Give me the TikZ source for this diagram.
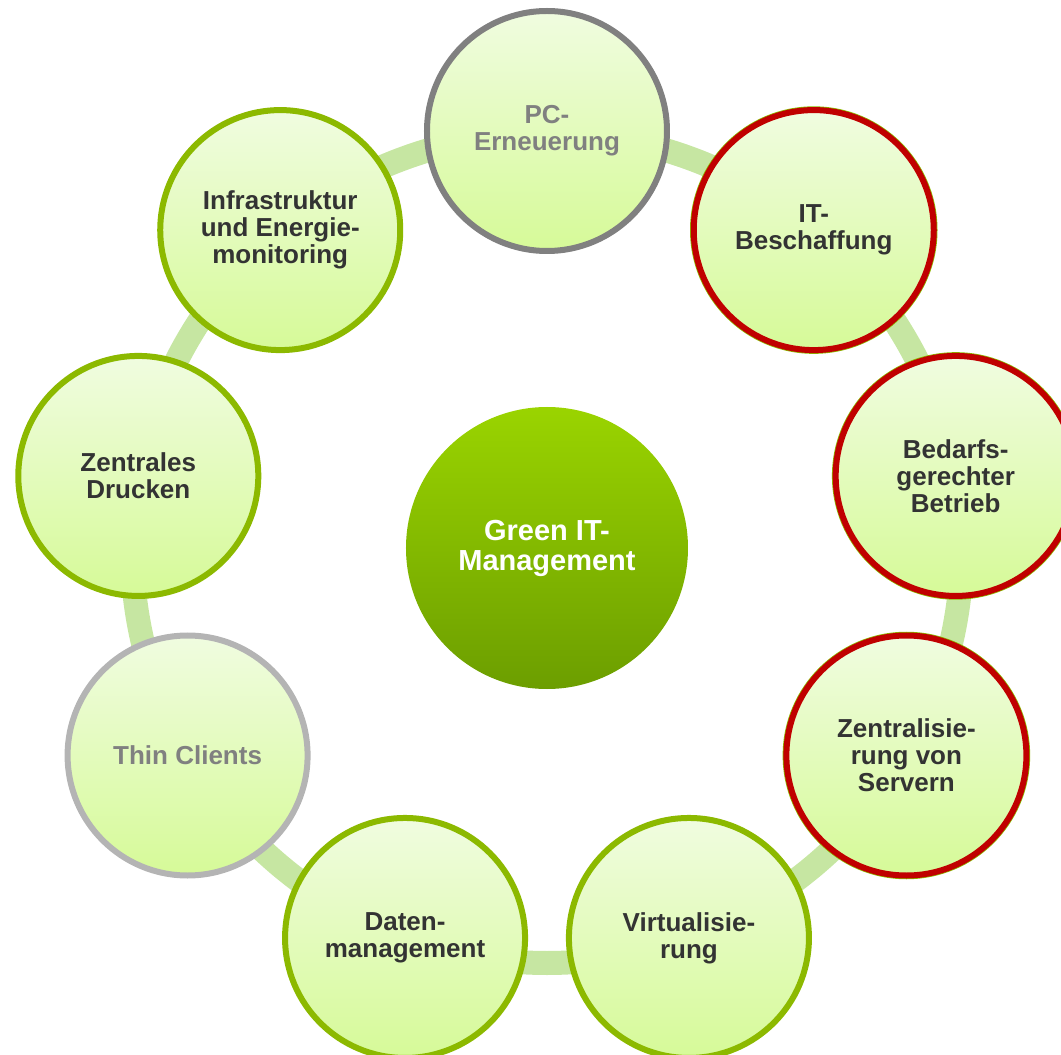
\documentclass[tikz,border=0pt]{standalone}
\usepackage{fontspec}
\setmainfont{Liberation Sans}

\definecolor{laubgruen}{HTML}{8CB900}
\definecolor{rotrand}{HTML}{C00000}
\definecolor{graurand}{HTML}{808080}
\definecolor{hellgrau}{HTML}{B4B4B4}
\definecolor{bandgruen}{HTML}{C6E6A2}
\definecolor{fuelloben}{HTML}{F0FCE0}
\definecolor{fuellunten}{HTML}{D6FA98}
\definecolor{kernoben}{HTML}{9AD400}
\definecolor{kernunten}{HTML}{6C9E00}
\definecolor{schrift}{HTML}{333333}

\tikzset{
  feld/.style={circle,minimum size=240pt,inner sep=0pt,line width=6pt,
    draw=laubgruen,top color=fuelloben,bottom color=fuellunten,
    text=schrift,align=center,font=\fontsize{26}{27}\selectfont\bfseries},
  rotfeld/.style={feld,draw=rotrand,preaction={draw=laubgruen,line width=7.5pt}},
  graufeld/.style={feld,draw=graurand,text=graurand},
  hellfeld/.style={feld,draw=hellgrau,text=graurand},
  kern/.style={circle,minimum size=282pt,inner sep=0pt,
    top color=kernoben,bottom color=kernunten,
    text=white,align=center,font=\fontsize{29}{30}\selectfont\bfseries},
  band/.style={draw=bandgruen,line width=24pt}
}

\begin{document}
\begin{tikzpicture}[x=1pt,y=1pt]
\clip (-547,-507) rectangle (514,548);
\coordinate (ringmitte) at (0,0);
% Ring hinter den Kreisen
\draw [band] (ringmitte) circle (415);
\node [kern] (mitte) at (ringmitte) {Green IT-\\Management};
\node [graufeld] (pc) at (90:417) {PC-\\Erneuerung};
\node [rotfeld] (beschaffung) at (50:415) {IT-\\Beschaffung};
\node [rotfeld] (bedarf) at (10:415) {Bedarfs-\\gerechter\\Betrieb};
\node [rotfeld] (server) at (-30:415) {Zentralisie-\\rung von\\Servern};
\node [feld] (virtual) at (-70:415) {Virtualisie-\\rung};
\node [feld] (daten) at (-110:415) {Daten-\\management};
\node [hellfeld] (thin) at (-150:415) {Thin Clients};
\node [feld] (drucken) at (170:415) {Zentrales\\Drucken};
\node [feld] (infra) at (130:415) {Infrastruktur\\und Energie-\\monitoring};
\end{tikzpicture}
\end{document}
